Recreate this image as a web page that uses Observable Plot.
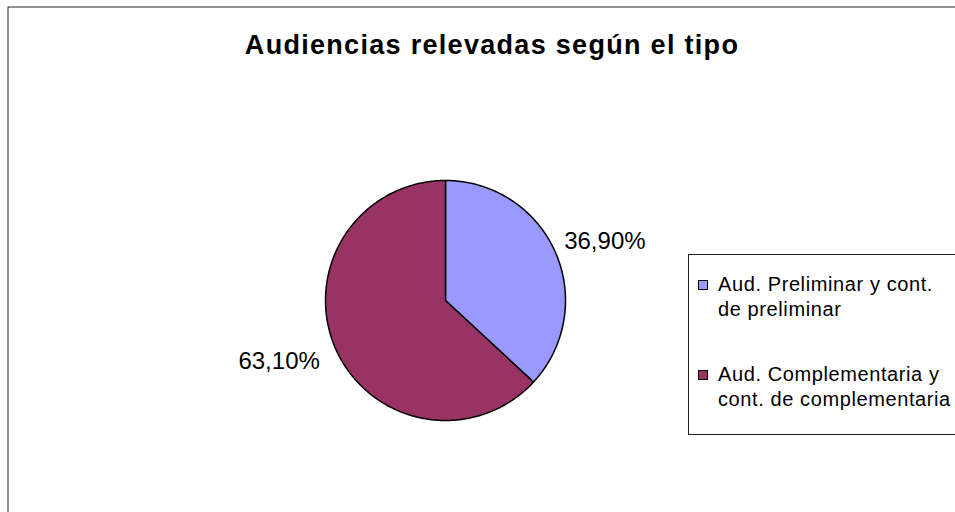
<!DOCTYPE html>
<html>
<head>
<meta charset="utf-8">
<script src="https://cdn.jsdelivr.net/npm/d3@7"></script>
<script src="https://cdn.jsdelivr.net/npm/@observablehq/plot@0.6"></script>
<style>
  body { margin: 0; background: #fff; font-family: "Liberation Sans", Arial, sans-serif; }
  #wrap { position: relative; width: 955px; height: 512px; overflow: hidden; }
  #legend { position: absolute; left: 688px; top: 254px; width: 275px; height: 181px; border: 1px solid #222; background: #fff; box-sizing: border-box; }
  .item { position: absolute; left: 0; padding-left: 29px; font-size: 20px; line-height: 25px; letter-spacing: 0.6px; color: #000; white-space: nowrap; }
  .sw { position: absolute; left: 9px; top: 8px; width: 8px; height: 8px; border: 1px solid #000; }
</style>
</head>
<body>
<div id="wrap"></div>
<script>
const title = "Audiencias relevadas según el tipo";
const categories = ["Aud. Preliminar y cont. de preliminar", "Aud. Complementaria y cont. de complementaria"];
const legendLines = [["Aud. Preliminar y cont.", "de preliminar"], ["Aud. Complementaria y", "cont. de complementaria"]];
const values = [36.9, 63.1];
const valueLabels = ["36,90%", "63,10%"];
const colors = ["#9999FF", "#993366"];

const arcs = d3.pie().sort(null).value(d => d)(values);

// slice outlines (unit circle, y up)
const slicePts = [];
arcs.forEach((a, i) => {
  slicePts.push({k: categories[i], x: 0, y: 0});
  const n = Math.max(2, Math.ceil((a.endAngle - a.startAngle) / (Math.PI / 360)));
  for (let j = 0; j <= n; j++) {
    const t = a.startAngle + (a.endAngle - a.startAngle) * j / n;
    slicePts.push({k: categories[i], x: Math.sin(t), y: Math.cos(t)});
  }
});

const labelPts = arcs.map((a, i) => {
  const m = (a.startAngle + a.endAngle) / 2;
  return {label: valueLabels[i], x: 1.07 * Math.sin(m), y: 1.07 * Math.cos(m)};
});

const chart = Plot.plot({
  width: 955,
  height: 512,
  margin: 0,
  x: {type: "linear", domain: [-1, 1], range: [325, 565], axis: null},
  y: {type: "linear", domain: [-1, 1], range: [420, 180], axis: null},
  color: {domain: categories, range: colors},
  style: {fontFamily: "'Liberation Sans', Arial, sans-serif", background: "#fff"},
  marks: [
    Plot.frame({stroke: "#222", strokeWidth: 1, insetLeft: 7.5, insetTop: 6.5, insetRight: -10, insetBottom: -10}),
    Plot.line(slicePts, {x: "x", y: "y", z: "k", fill: "k", stroke: "#000", strokeWidth: 1.5, curve: "linear-closed", strokeLinejoin: "round"}),
    Plot.text(labelPts.filter(d => d.x >= 0), {x: "x", y: "y", text: "label", textAnchor: "start", lineAnchor: "bottom", fontSize: 24, fill: "#000", dx: 1}),
    Plot.text(labelPts.filter(d => d.x < 0), {x: "x", y: "y", text: "label", textAnchor: "end", lineAnchor: "top", fontSize: 24, fill: "#000", dx: -8}),
    Plot.text([title], {frameAnchor: "top", text: d => d, lineAnchor: "bottom", dx: 14, dy: 53, fontSize: 27, fontWeight: "bold", fill: "#000"})
  ]
});

const wrap = document.getElementById("wrap");
wrap.appendChild(chart);
chart.querySelectorAll("text").forEach(t => {
  if (t.textContent === title) t.style.letterSpacing = "1.3px";
});

const legend = document.createElement("div");
legend.id = "legend";
const tops = [16.5, 106.5];
legendLines.forEach((lines, i) => {
  const it = document.createElement("div");
  it.className = "item";
  it.style.top = tops[i] + "px";
  const sw = document.createElement("div");
  sw.className = "sw";
  sw.style.background = colors[i];
  it.appendChild(sw);
  lines.forEach((ln, j) => {
    if (j) it.appendChild(document.createElement("br"));
    it.appendChild(document.createTextNode(ln));
  });
  legend.appendChild(it);
});
wrap.appendChild(legend);
</script>
</body>
</html>
